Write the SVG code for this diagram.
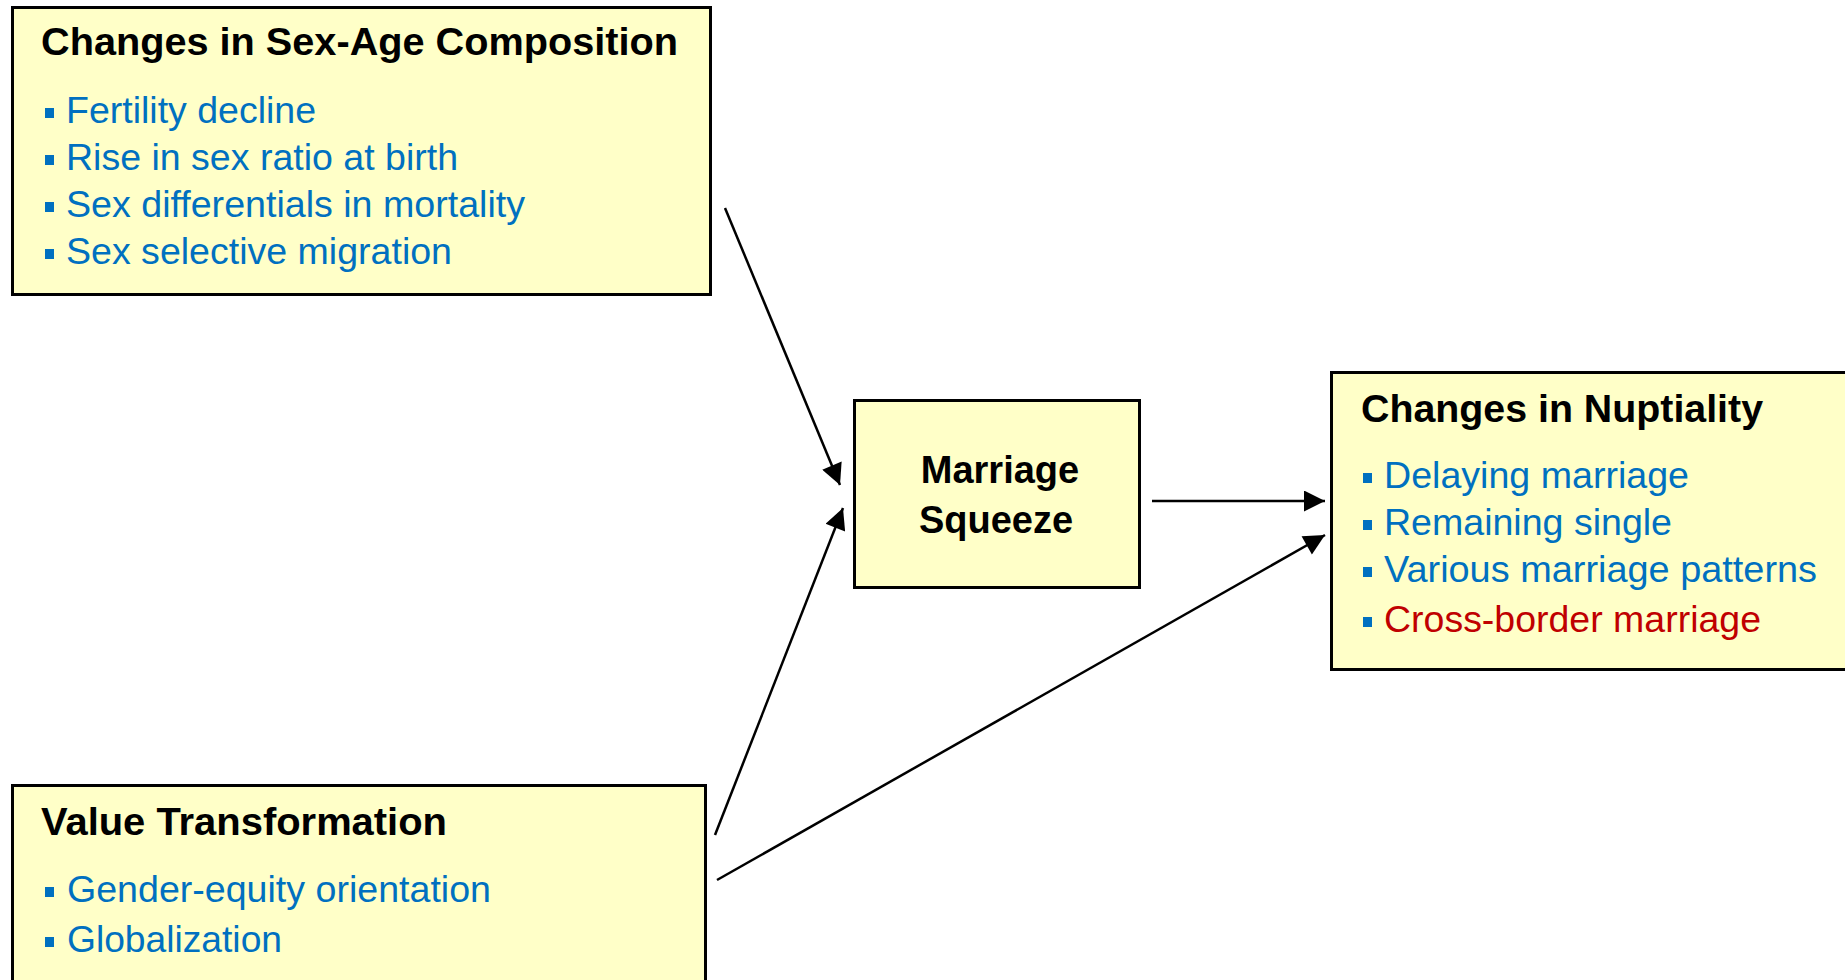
<svg xmlns="http://www.w3.org/2000/svg" width="1845" height="980" viewBox="0 0 1845 980">
<style>
.box{fill:#FFFFC8;stroke:#000;stroke-width:3}
.title{font-family:"Liberation Sans",Arial,sans-serif;font-weight:bold;font-size:38px;fill:#000}
.item{font-family:"Liberation Sans",Arial,sans-serif;font-size:37.5px;fill:#0070C0}
.red{fill:#C00000}
.bul{fill:#0070C0}
.conn{stroke:#000;stroke-width:2.5;fill:none;marker-end:url(#arr)}
</style>
<defs>
<marker id="arr" viewBox="0 0 10 10" refX="10" refY="5" markerWidth="23" markerHeight="21" markerUnits="userSpaceOnUse" orient="auto">
<path d="M0,0 L10,5 L0,10 z" fill="#000"/>
</marker>
</defs>
<rect width="1845" height="980" fill="#fff"/>
<g id="sexage">
<rect class="box" x="12.5" y="7.5" width="698" height="287"/>
<text class="title" x="41" y="55" textLength="637" lengthAdjust="spacingAndGlyphs">Changes in Sex-Age Composition</text>
<rect class="bul" x="45" y="108" width="9" height="10"/>
<text class="item" x="66" y="123" textLength="250" lengthAdjust="spacingAndGlyphs">Fertility decline</text>
<rect class="bul" x="45" y="155" width="9" height="10"/>
<text class="item" x="66" y="170" textLength="392" lengthAdjust="spacingAndGlyphs">Rise in sex ratio at birth</text>
<rect class="bul" x="45" y="202" width="9" height="10"/>
<text class="item" x="66" y="217" textLength="459" lengthAdjust="spacingAndGlyphs">Sex differentials in mortality</text>
<rect class="bul" x="45" y="249" width="9" height="10"/>
<text class="item" x="66" y="264" textLength="386" lengthAdjust="spacingAndGlyphs">Sex selective migration</text>
</g>
<g id="squeeze">
<rect class="box" x="854.5" y="400.5" width="285" height="187"/>
<text class="title" x="1000" y="483" text-anchor="middle">Marriage</text>
<text class="title" x="996" y="533" text-anchor="middle">Squeeze</text>
</g>
<g id="nuptiality">
<rect class="box" x="1331.5" y="372.5" width="530" height="297"/>
<text class="title" x="1361" y="422" textLength="402" lengthAdjust="spacingAndGlyphs">Changes in Nuptiality</text>
<rect class="bul" x="1363" y="473" width="9" height="10"/>
<text class="item" x="1384" y="488" textLength="305" lengthAdjust="spacingAndGlyphs">Delaying marriage</text>
<rect class="bul" x="1363" y="520" width="9" height="10"/>
<text class="item" x="1384" y="535" textLength="288" lengthAdjust="spacingAndGlyphs">Remaining single</text>
<rect class="bul" x="1363" y="567" width="9" height="10"/>
<text class="item" x="1384" y="582" textLength="433" lengthAdjust="spacingAndGlyphs">Various marriage patterns</text>
<rect class="bul" x="1363" y="617" width="9" height="10"/>
<text class="item red" x="1384" y="632" textLength="377" lengthAdjust="spacingAndGlyphs">Cross-border marriage</text>
</g>
<g id="value">
<rect class="box" x="12.5" y="785.5" width="693" height="210"/>
<text class="title" x="41" y="835" textLength="406" lengthAdjust="spacingAndGlyphs">Value Transformation</text>
<rect class="bul" x="45" y="887" width="9" height="10"/>
<text class="item" x="67" y="902" textLength="424" lengthAdjust="spacingAndGlyphs">Gender-equity orientation</text>
<rect class="bul" x="45" y="937" width="9" height="10"/>
<text class="item" x="67" y="952" textLength="215" lengthAdjust="spacingAndGlyphs">Globalization</text>
</g>
<g id="connectors">
<line class="conn" x1="725" y1="208" x2="840" y2="485"/>
<line class="conn" x1="715" y1="835" x2="843" y2="508"/>
<line class="conn" x1="1152" y1="501" x2="1325" y2="501"/>
<line class="conn" x1="717" y1="880" x2="1325" y2="535"/>
</g>
</svg>
